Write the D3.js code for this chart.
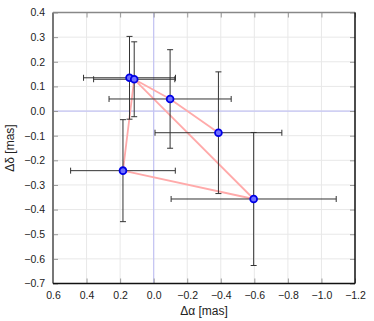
<!DOCTYPE html>
<html>
<head>
<meta charset="utf-8">
<script src="https://cdn.jsdelivr.net/npm/d3@7"></script>
<style>
  body { margin: 0; background: #fff; }
  text { font-family: "Liberation Sans", Arial, sans-serif; }
</style>
</head>
<body>
<svg id="drawing_region"></svg>
<script>
// offsets of each epoch [mas]
const dRA    = [0.144, 0.116, -0.098, -0.386, -0.596, 0.183];
const dDec   = [0.135, 0.129, 0.049, -0.088, -0.357, -0.242];
const errRA  = [0.274, 0.242, 0.364, 0.378, 0.492, 0.312];
const errDec = [0.168, 0.152, 0.200, 0.247, 0.270, 0.207];
// order in which the pink track joins the points
const trackOrder = [3, 2, 1, 0, 1, 4, 5, 1];

const xTicks = [0.6, 0.4, 0.2, 0.0, -0.2, -0.4, -0.6, -0.8, -1.0, -1.2];
const yTicks = [0.4, 0.3, 0.2, 0.1, 0.0, -0.1, -0.2, -0.3, -0.4, -0.5, -0.6, -0.7];

const config = {
    width: 374,
    height: 321,
    margin: { top: 12.5, right: 19, bottom: 37.5, left: 53 }
};

const points = dRA.map((d, i) => ({ x: d, y: dDec[i], ex: errRA[i], ey: errDec[i] }));

const svg = d3.select('#drawing_region')
    .attr('width', config.width)
    .attr('height', config.height);

const inner_width = config.width - config.margin.left - config.margin.right;
const inner_height = config.height - config.margin.top - config.margin.bottom;

const chart = svg.append('g')
    .attr('transform', `translate(${config.margin.left}, ${config.margin.top})`);

const xscale = d3.scaleLinear().domain([0.6, -1.2]).range([0, inner_width]);
const yscale = d3.scaleLinear().domain([-0.7, 0.4]).range([inner_height, 0]);

// grid
chart.selectAll('.vgrid')
    .data(xTicks.slice(1, -1))
    .enter().append('line')
    .attr('x1', d => xscale(d)).attr('x2', d => xscale(d))
    .attr('y1', 0).attr('y2', inner_height)
    .attr('stroke', '#e8e8e8').attr('stroke-width', 1);
chart.selectAll('.hgrid')
    .data(yTicks.slice(1, -1))
    .enter().append('line')
    .attr('y1', d => yscale(d)).attr('y2', d => yscale(d))
    .attr('x1', 0).attr('x2', inner_width)
    .attr('stroke', '#e8e8e8').attr('stroke-width', 1);

// zero lines
chart.append('line')
    .attr('x1', xscale(0)).attr('x2', xscale(0))
    .attr('y1', 0).attr('y2', inner_height)
    .attr('stroke', '#c4c4f4').attr('stroke-width', 1.2);
chart.append('line')
    .attr('x1', 0).attr('x2', inner_width)
    .attr('y1', yscale(0)).attr('y2', yscale(0))
    .attr('stroke', '#c4c4f4').attr('stroke-width', 1.2);

// axes (ticks pointing inwards)
chart.append('g')
    .attr('transform', `translate(0, ${inner_height})`)
    .call(d3.axisBottom(xscale).tickValues(xTicks).tickSize(-5).tickPadding(8)
        .tickFormat(d3.format('.1f')))
    .call(g => g.select('.domain').remove());
chart.append('g')
    .call(d3.axisTop(xscale).tickValues(xTicks).tickSize(-5).tickFormat(''))
    .call(g => g.select('.domain').remove());
chart.append('g')
    .call(d3.axisLeft(yscale).tickValues(yTicks).tickSize(-5).tickPadding(8)
        .tickFormat(d3.format('.1f')))
    .call(g => g.select('.domain').remove());
chart.append('g')
    .attr('transform', `translate(${inner_width}, 0)`)
    .call(d3.axisRight(yscale).tickValues(yTicks).tickSize(-5).tickFormat(''))
    .call(g => g.select('.domain').remove());

chart.selectAll('.tick line').attr('stroke', '#999');
chart.selectAll('.tick text')
    .attr('fill', '#222')
    .style('font-size', '10.5px');

// frame
chart.append('line').attr('x1', 0).attr('x2', 0).attr('y1', 0).attr('y2', inner_height)
    .attr('stroke', '#777').attr('stroke-width', 2);
chart.append('line').attr('x1', 0).attr('x2', inner_width).attr('y1', 0).attr('y2', 0)
    .attr('stroke', '#888').attr('stroke-width', 1.5);
chart.append('line').attr('x1', inner_width).attr('x2', inner_width).attr('y1', 0).attr('y2', inner_height)
    .attr('stroke', '#111').attr('stroke-width', 1.5);
chart.append('line').attr('x1', 0).attr('x2', inner_width).attr('y1', inner_height).attr('y2', inner_height)
    .attr('stroke', '#111').attr('stroke-width', 1.5);

// pink track
const line = d3.line()
    .x(i => xscale(points[i].x))
    .y(i => yscale(points[i].y));
chart.append('path')
    .datum(trackOrder)
    .attr('d', line)
    .attr('fill', 'none')
    .attr('stroke', '#ffaaaa')
    .attr('stroke-width', 1.8)
    .attr('stroke-linejoin', 'round');

// error bars
const cap = 3;
const eb = chart.selectAll('.errbar')
    .data(points)
    .enter().append('g')
    .attr('stroke', '#333')
    .attr('stroke-width', 1);
eb.append('line')
    .attr('x1', d => xscale(d.x - d.ex)).attr('x2', d => xscale(d.x + d.ex))
    .attr('y1', d => yscale(d.y)).attr('y2', d => yscale(d.y));
eb.append('line')
    .attr('x1', d => xscale(d.x)).attr('x2', d => xscale(d.x))
    .attr('y1', d => yscale(d.y - d.ey)).attr('y2', d => yscale(d.y + d.ey));
[-1, 1].forEach(s => {
    eb.append('line')
        .attr('x1', d => xscale(d.x + s * d.ex)).attr('x2', d => xscale(d.x + s * d.ex))
        .attr('y1', d => yscale(d.y) - cap).attr('y2', d => yscale(d.y) + cap);
    eb.append('line')
        .attr('x1', d => xscale(d.x) - cap).attr('x2', d => xscale(d.x) + cap)
        .attr('y1', d => yscale(d.y + s * d.ey)).attr('y2', d => yscale(d.y + s * d.ey));
});

// markers
chart.selectAll('.pt')
    .data(points)
    .enter().append('circle')
    .attr('cx', d => xscale(d.x))
    .attr('cy', d => yscale(d.y))
    .attr('r', 3.4)
    .attr('fill', '#7070ff')
    .attr('stroke', '#0000e6')
    .attr('stroke-width', 1.8);

// axis titles
svg.append('text')
    .attr('x', config.margin.left + inner_width / 2)
    .attr('y', 315)
    .attr('text-anchor', 'middle')
    .style('font-size', '12px')
    .attr('fill', '#222')
    .text('Δα [mas]');
svg.append('text')
    .attr('transform', `translate(14, ${config.margin.top + inner_height / 2}) rotate(-90)`)
    .attr('text-anchor', 'middle')
    .style('font-size', '12px')
    .attr('fill', '#222')
    .text('Δδ [mas]');
</script>
</body>
</html>
